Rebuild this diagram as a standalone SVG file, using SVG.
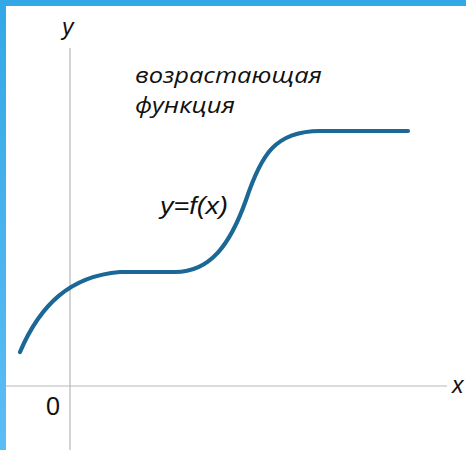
<svg xmlns="http://www.w3.org/2000/svg" width="466" height="450" viewBox="0 0 466 450">
  <defs>
    <linearGradient id="side" x1="0" y1="0" x2="0" y2="1">
      <stop offset="0" stop-color="#33a8e6"/>
      <stop offset="1" stop-color="#5cbdf6"/>
    </linearGradient>
  </defs>
  <style>
    .axis { stroke: #b8b8b8; stroke-width: 1.2; fill: none; }
    .curve { stroke: #1b6795; stroke-width: 4.2; fill: none; stroke-linecap: round; }
    .lbl { font-family: "Liberation Sans", Arial, sans-serif; fill: #111; }
    .ru { font-family: "Open Sans", "DejaVu Sans", sans-serif; font-style: italic; fill: #111; font-size: 21px; }
  </style>
  <rect x="0" y="0" width="466" height="450" fill="#ffffff"/>
  <rect x="0" y="0" width="466" height="6" fill="#33a8e6"/>
  <rect x="0" y="0" width="6" height="450" fill="url(#side)"/>
  <g id="axes">
    <line class="axis" x1="70" y1="48" x2="70" y2="450"/>
    <line class="axis" x1="6" y1="386" x2="447" y2="386"/>
  </g>
  <g id="labels">
    <text class="lbl" x="62" y="35" font-size="23" font-style="italic">y</text>
    <text class="lbl" x="452" y="393" font-size="23" font-style="italic">x</text>
    <text class="lbl" x="46" y="415" font-size="25" textLength="14" lengthAdjust="spacingAndGlyphs">0</text>
    <text class="ru" x="135" y="83" textLength="187" lengthAdjust="spacingAndGlyphs">возрастающая</text>
    <text class="ru" x="135" y="113" textLength="100" lengthAdjust="spacingAndGlyphs">функция</text>
    <text class="lbl" x="160" y="214" font-size="24" font-style="italic" textLength="68" lengthAdjust="spacingAndGlyphs">y=f(x)</text>
  </g>
  <g id="connectors">
    <path class="curve" d="M20,352 C40,305 70,276 120,272 L175,272 C210,272 230,245 246,200 C261,155 275,131 320,131 L408,131"/>
  </g>
</svg>
